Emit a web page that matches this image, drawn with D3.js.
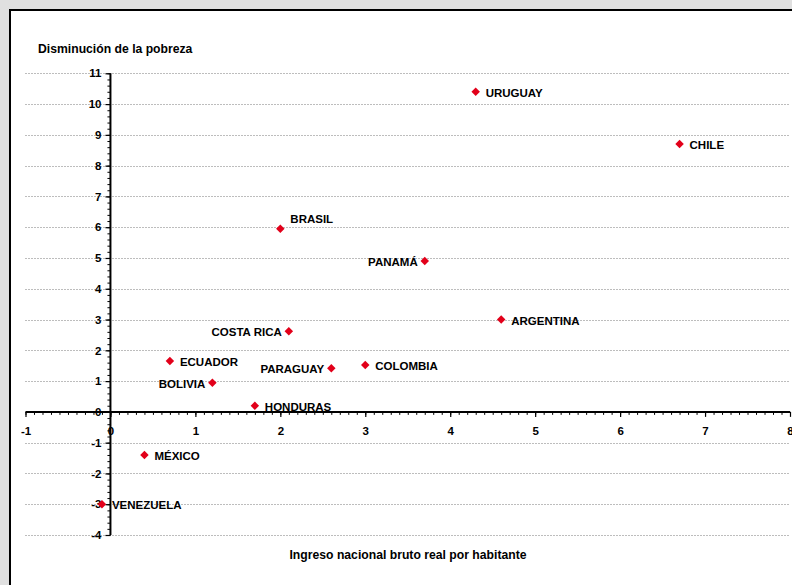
<!DOCTYPE html>
<html>
<head>
<meta charset="utf-8">
<script src="https://cdn.jsdelivr.net/npm/d3@7"></script>
<style>
  html, body { margin: 0; padding: 0; background: #e0e0e0; }
  svg { display: block; }
  text { font-family: "Liberation Sans", Arial, sans-serif; font-weight: bold; fill: #000; }
</style>
</head>
<body>
<svg id="chart" width="792" height="585"></svg>
<script>
// ---- data ----
const countries = ["URUGUAY", "CHILE", "BRASIL", "PANAMÁ", "ARGENTINA", "COSTA RICA", "ECUADOR",
                   "PARAGUAY", "COLOMBIA", "BOLIVIA", "HONDURAS", "MÉXICO", "VENEZUELA"];
const incomeGrowth = [4.3, 6.7, 2.0, 3.7, 4.6, 2.1, 0.7, 2.6, 3.0, 1.2, 1.7, 0.4, -0.1];
const povertyReduction = [10.4, 8.7, 5.95, 4.9, 3.0, 2.62, 1.65, 1.42, 1.52, 0.95, 0.2, -1.4, -3.0];
const xTicks = [-1, 0, 1, 2, 3, 4, 5, 6, 7, 8];
const yTicks = [-4, -3, -2, -1, 0, 1, 2, 3, 4, 5, 6, 7, 8, 9, 10, 11];
const yTitle = "Disminución de la pobreza";
const xTitle = "Ingreso nacional bruto real por habitante";

// ---- drawing ----
const svg = d3.select("#chart");
const x = d3.scaleLinear().domain([-1, 8]).range([25.5, 790]);
const y = d3.scaleLinear().domain([-4, 11]).range([535, 73.3]);
const fmt = d => String(d);

// panel
svg.append("rect").attr("x", 10).attr("y", 10).attr("width", 800).attr("height", 600)
  .attr("fill", "#fff").attr("stroke", "#000").attr("stroke-width", 2);

// gridlines
svg.append("g").selectAll("line").data(yTicks.filter(v => v !== 0)).join("line")
  .attr("x1", x(-1)).attr("x2", x(8))
  .attr("y1", d => Math.round(y(d)) + 0.5).attr("y2", d => Math.round(y(d)) + 0.5)
  .attr("stroke", "#7a7a7a").attr("stroke-width", 1).attr("stroke-dasharray", "1,2");

// x axis
const x0 = y(0);
const gx = svg.append("g").attr("transform", `translate(0,${x0})`)
  .call(d3.axisBottom(x).tickValues(d3.range(-10, 81).map(v => v / 10)).tickSize(3).tickFormat(""));
gx.select(".domain").remove();
gx.selectAll(".tick line").attr("stroke", "#000").attr("stroke-width", 1);
svg.append("line").attr("x1", x(-1)).attr("x2", x(8)).attr("y1", x0).attr("y2", x0)
  .attr("stroke", "#000").attr("stroke-width", 2);
const gxMaj = svg.append("g").attr("transform", `translate(0,${x0})`)
  .call(d3.axisBottom(x).tickValues(xTicks).tickSize(5).tickPadding(10).tickFormat(fmt));
gxMaj.select(".domain").remove();
gxMaj.selectAll(".tick line").attr("stroke", "#000").attr("stroke-width", 1.2);
gxMaj.selectAll(".tick text").attr("font-size", "11.5px").attr("font-family", null)
  .style("font-family", '"Liberation Sans", Arial, sans-serif').style("font-weight", "bold").attr("fill", "#000");

// y axis
const y0 = x(0);
const gy = svg.append("g").attr("transform", `translate(${y0},0)`)
  .call(d3.axisLeft(y).tickValues(d3.range(-20, 56).map(v => v / 5)).tickSize(3).tickFormat(""));
gy.select(".domain").remove();
gy.selectAll(".tick line").attr("stroke", "#000").attr("stroke-width", 1);
svg.append("line").attr("x1", y0).attr("x2", y0).attr("y1", y(11)).attr("y2", y(-4))
  .attr("stroke", "#000").attr("stroke-width", 2);
const gyMaj = svg.append("g").attr("transform", `translate(${y0},0)`)
  .call(d3.axisLeft(y).tickValues(yTicks).tickSize(5).tickPadding(4).tickFormat(fmt));
gyMaj.select(".domain").remove();
gyMaj.selectAll(".tick line").attr("stroke", "#000").attr("stroke-width", 1.2);
gyMaj.selectAll(".tick text").attr("font-size", "11.5px").attr("font-family", null)
  .style("font-family", '"Liberation Sans", Arial, sans-serif').style("font-weight", "bold").attr("fill", "#000");

// titles
svg.append("text").attr("x", 38).attr("y", 53).attr("font-size", "12.2px").text(yTitle);
svg.append("text").attr("x", 408).attr("y", 559).attr("text-anchor", "middle")
  .attr("font-size", "12.2px").text(xTitle);

// points
const pts = countries.map((c, i) => ({ name: c, gx: incomeGrowth[i], py: povertyReduction[i] }));
const diamond = d3.symbol().type(d3.symbolSquare).size(36);
svg.append("g").selectAll("path").data(pts).join("path")
  .attr("d", diamond)
  .attr("transform", d => `translate(${x(d.gx)},${y(d.py)}) rotate(45)`)
  .attr("fill", "#e2001a");

// labels
const placement = {
  "PANAMÁ": "left", "COSTA RICA": "left", "PARAGUAY": "left", "BOLIVIA": "left", "BRASIL": "above"
};
svg.append("g").selectAll("text").data(pts).join("text")
  .attr("font-size", "11.5px")
  .attr("x", d => {
    const p = placement[d.name];
    if (p === "left") return x(d.gx) - 7;
    return x(d.gx) + 10;
  })
  .attr("y", d => placement[d.name] === "above" ? y(d.py) - 6 : y(d.py) + 5)
  .attr("text-anchor", d => placement[d.name] === "left" ? "end" : "start")
  .text(d => d.name);
</script>
</body>
</html>
